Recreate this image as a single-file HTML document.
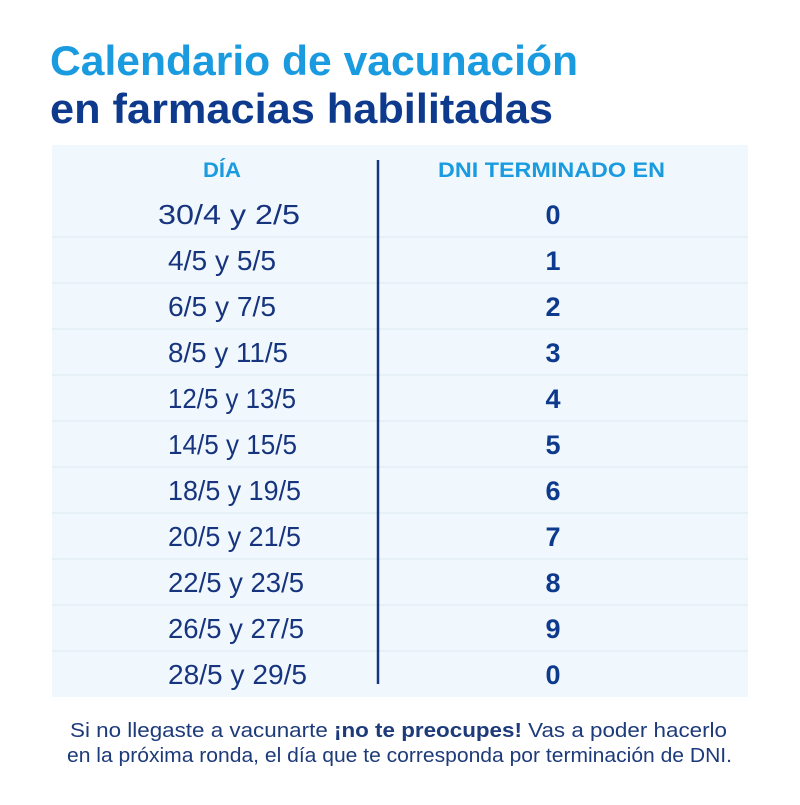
<!DOCTYPE html>
<html><head><meta charset="utf-8"><style>html,body{margin:0;padding:0;background:#fff}</style></head>
<body>
<svg width="800" height="800" xmlns="http://www.w3.org/2000/svg" font-family="Liberation Sans, sans-serif">
<rect width="800" height="800" fill="#fff"/>
<text x="50" y="75" font-size="42" font-weight="bold" fill="#1a9be0" textLength="528" lengthAdjust="spacingAndGlyphs">Calendario de vacunación</text>
<text x="50" y="123" font-size="42" font-weight="bold" fill="#0e3a8e" textLength="503" lengthAdjust="spacingAndGlyphs">en farmacias habilitadas</text>
<rect x="52" y="145" width="696" height="552" fill="#f1f8fd"/>
<g stroke="#e3edf5" stroke-width="1.5">
<line x1="52" y1="237" x2="748" y2="237"/><line x1="52" y1="283" x2="748" y2="283"/>
<line x1="52" y1="329" x2="748" y2="329"/><line x1="52" y1="375" x2="748" y2="375"/>
<line x1="52" y1="421" x2="748" y2="421"/><line x1="52" y1="467" x2="748" y2="467"/>
<line x1="52" y1="513" x2="748" y2="513"/><line x1="52" y1="559" x2="748" y2="559"/>
<line x1="52" y1="605" x2="748" y2="605"/><line x1="52" y1="651" x2="748" y2="651"/>
</g>
<line x1="378" y1="160" x2="378" y2="684" stroke="#17347f" stroke-width="2.5"/>
<text x="203" y="177" font-size="21" font-weight="bold" fill="#1a9be0" textLength="38" lengthAdjust="spacingAndGlyphs">DÍA</text>
<text x="438" y="177" font-size="21" font-weight="bold" fill="#1a9be0" textLength="227" lengthAdjust="spacingAndGlyphs">DNI TERMINADO EN</text>
<g font-size="28" fill="#17347f" lengthAdjust="spacingAndGlyphs">
<text x="158" y="224" textLength="142" lengthAdjust="spacingAndGlyphs">30/4 y 2/5</text>
<text x="168" y="270" textLength="108" lengthAdjust="spacingAndGlyphs">4/5 y 5/5</text>
<text x="168" y="316" textLength="108" lengthAdjust="spacingAndGlyphs">6/5 y 7/5</text>
<text x="168" y="362" textLength="120" lengthAdjust="spacingAndGlyphs">8/5 y 11/5</text>
<text x="168" y="408" textLength="128" lengthAdjust="spacingAndGlyphs">12/5 y 13/5</text>
<text x="168" y="454" textLength="129" lengthAdjust="spacingAndGlyphs">14/5 y 15/5</text>
<text x="168" y="500" textLength="133" lengthAdjust="spacingAndGlyphs">18/5 y 19/5</text>
<text x="168" y="546" textLength="133" lengthAdjust="spacingAndGlyphs">20/5 y 21/5</text>
<text x="168" y="592" textLength="136" lengthAdjust="spacingAndGlyphs">22/5 y 23/5</text>
<text x="168" y="638" textLength="136" lengthAdjust="spacingAndGlyphs">26/5 y 27/5</text>
<text x="168" y="684" textLength="139" lengthAdjust="spacingAndGlyphs">28/5 y 29/5</text>
</g>
<g font-size="27" font-weight="bold" fill="#0e3a8e" text-anchor="middle">
<text x="553" y="224">0</text><text x="553" y="270">1</text><text x="553" y="316">2</text>
<text x="553" y="362">3</text><text x="553" y="408">4</text><text x="553" y="454">5</text>
<text x="553" y="500">6</text><text x="553" y="546">7</text><text x="553" y="592">8</text>
<text x="553" y="638">9</text><text x="553" y="684">0</text>
</g>
<text x="70" y="737" font-size="20" fill="#1d3a7a" textLength="657" lengthAdjust="spacingAndGlyphs">Si no llegaste a vacunarte <tspan font-weight="bold">¡no te preocupes!</tspan> Vas a poder hacerlo</text>
<text x="67" y="762" font-size="20" fill="#1d3a7a" textLength="665" lengthAdjust="spacingAndGlyphs">en la próxima ronda, el día que te corresponda por terminación de DNI.</text>
</svg>
</body></html>
